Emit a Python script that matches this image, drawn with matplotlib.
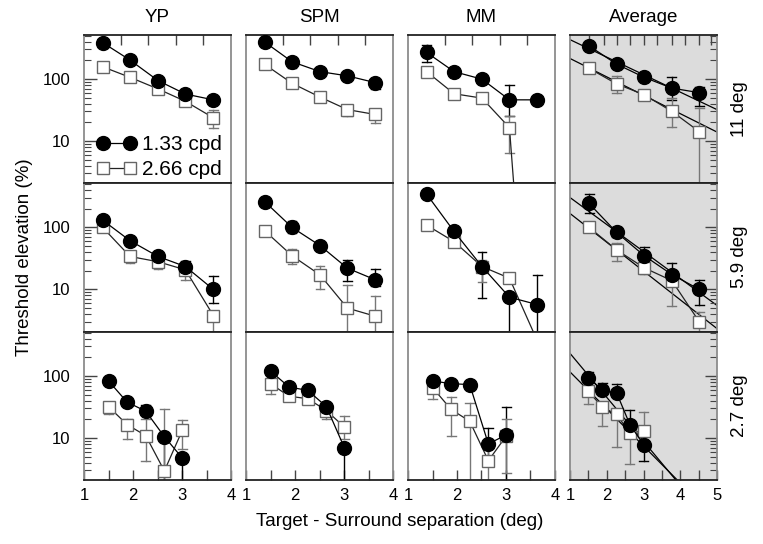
import numpy as np
import matplotlib
matplotlib.use("Agg")
import matplotlib.pyplot as plt
from matplotlib.lines import Line2D
from matplotlib.ticker import FixedLocator, NullFormatter, LogLocator

plt.rcParams['font.family'] = ['Liberation Sans', 'DejaVu Sans']

# ---------------- data ----------------
subjects = ["YP", "SPM", "MM", "Average"]
eccentricities = ["11 deg", "5.9 deg", "2.7 deg"]
legend_labels = ["1.33 cpd", "2.66 cpd"]

x_far = [1.38, 1.94, 2.51, 3.07, 3.64]       # 11 & 5.9 deg, individual observers
x_near = [1.50, 1.88, 2.26, 2.64, 3.01]      # 2.7 deg
x_avg_far = [1.52, 2.27, 3.02, 3.77, 4.52]   # average, 11 & 5.9 deg
x_avg_near = [1.50, 1.88, 2.27, 2.63, 3.01]  # average, 2.7 deg

nan = np.nan
# --- 11 deg ---
YP_11_c = [385, 201, 94, 57, 46]
YP_11_s = [157, 106, 69, 43.5, 23.6]
YP_11_c_lo = [330, nan, nan, nan, nan]
YP_11_c_hi = [440, nan, nan, nan, nan]
YP_11_s_lo = [nan, nan, nan, 40, 16.4]
YP_11_s_hi = [nan, nan, nan, nan, 32]

SPM_11_c = [394, 189, 131, 112, 87]
SPM_11_s = [172, 85, 51, 32, 26.7]
SPM_11_c_lo = [nan, 151, nan, nan, 69]
SPM_11_c_hi = [nan, nan, nan, nan, nan]
SPM_11_s_lo = [nan, nan, nan, 25, 19.6]
SPM_11_s_hi = [nan, nan, nan, nan, 33]

MM_11_c = [267, 131, 99, 46, 46]
MM_11_s = [131, 57.7, 49, 16.4, 2e-5]
MM_11_c_lo = [185, nan, nan, 25.7, nan]
MM_11_c_hi = [348, nan, nan, 80, nan]
MM_11_s_lo = [nan, nan, nan, 6.4, nan]
MM_11_s_hi = [nan, nan, nan, 25.7, nan]

AVG_11_c = [340, 173, 106, 71, 60]
AVG_11_s = [148, 83, 55.6, 30, 14.1]
AVG_11_c_lo = [nan, nan, nan, 46, 37]
AVG_11_c_hi = [nan, nan, nan, 109, 74]
AVG_11_s_lo = [nan, 60, nan, 17, 0.5]
AVG_11_s_hi = [nan, 112, nan, 50, 34]
AVG_11_fit_c = (2.915, -0.282)   # log10 intercept, slope
AVG_11_fit_s = (2.626, -0.2965)

# --- 5.9 deg ---
YP_59_c = [131, 61, 34, 23.4, 10]
YP_59_s = [100, 34, 28, 20.7, 3.8]
YP_59_c_lo = [nan, nan, nan, nan, 6]
YP_59_c_hi = [nan, nan, nan, 29, 16.2]
YP_59_s_lo = [nan, 26.4, 21.5, 14, 0.5]
YP_59_s_hi = [nan, nan, nan, 26, nan]

SPM_59_c = [261, 100, 51, 22, 14.3]
SPM_59_s = [88.5, 35, 17.2, 5, 3.7]
SPM_59_c_lo = [nan, 80, nan, 13.6, 11.2]
SPM_59_c_hi = [nan, 125, nan, 30, 21]
SPM_59_s_lo = [nan, 26, 10.2, 0.5, 0.5]
SPM_59_s_hi = [nan, 45, 23.5, 11.6, 7.7]

MM_59_c = [344, 86, 23.4, 7.5, 5.7]
MM_59_s = [109, 59, 23.4, 15.2, 1.48]
MM_59_c_lo = [nan, nan, 7.4, 0.5, 0.5]
MM_59_c_hi = [nan, nan, 39.7, nan, 17.4]
MM_59_s_lo = [nan, nan, 13.1, nan, nan]
MM_59_s_hi = [nan, nan, 30, 18.3, nan]

AVG_59_c = [243, 83, 35, 17.4, 10]
AVG_59_s = [100, 43.4, 22.3, 13.9, 3.0]
AVG_59_c_lo = [172, 69, 25, 11.5, 5.7]
AVG_59_c_hi = [343, 100, 48, 26.4, 14.3]
AVG_59_s_lo = [nan, 28.5, 17.8, 5.5, 2.1]
AVG_59_s_hi = [nan, 57, 28, nan, 4.3]
AVG_59_fit_c = (2.917, -0.435)
AVG_59_fit_s = (2.689, -0.464)

# --- 2.7 deg ---
YP_27_c = [83, 37.8, 27, 10.5, 4.7]
YP_27_s = [32, 16.4, 10.9, 2.94, 13.5]
YP_27_c_lo = [nan, nan, nan, 0.5, 0.5]
YP_27_c_hi = [nan, nan, 33.5, nan, nan]
YP_27_s_lo = [24.5, 9.7, 4.2, 0.5, 6.6]
YP_27_s_hi = [37.8, 20.4, 20.4, 29.6, 19.6]

SPM_27_c = [120, 66, 58.6, 32, 6.9]
SPM_27_s = [75, 47, 43, 27.7, 14.9]
SPM_27_c_lo = [nan, nan, nan, nan, 0.5]
SPM_27_c_hi = [nan, nan, nan, nan, nan]
SPM_27_s_lo = [52, nan, nan, 20.3, 9.7]
SPM_27_s_hi = [nan, nan, nan, nan, 23]

MM_27_c = [83, 75, 72.5, 8, 11.3]
MM_27_s = [65, 28.8, 18.6, 4.3, 10.9]
MM_27_c_lo = [nan, nan, nan, 4, 0.5]
MM_27_c_hi = [nan, nan, nan, 14.5, 32]
MM_27_s_lo = [43, 10.9, 0.5, 0.5, 2.7]
MM_27_s_hi = [nan, 45.6, 36, 7, 20.3]

AVG_27_c = [94, 58.6, 53, 16.4, 7.7]
AVG_27_s = [56.4, 31.4, 23.9, 11.9, 13.1]
AVG_27_c_lo = [nan, nan, nan, nan, 4.3]
AVG_27_c_hi = [116, 77, 75, 28.5, nan]
AVG_27_s_lo = [34.7, 15.8, 7.1, 3.8, 6.6]
AVG_27_s_hi = [nan, nan, nan, nan, 26]
AVG_27_fit_c = (3.073, -0.709)
AVG_27_fit_s = (2.662, -0.597)

# table assembled from the named lists: rows = eccentricity, cols = subject
panels = [
    [(x_far, YP_11_c, YP_11_s, YP_11_c_lo, YP_11_c_hi, YP_11_s_lo, YP_11_s_hi, None),
     (x_far, SPM_11_c, SPM_11_s, SPM_11_c_lo, SPM_11_c_hi, SPM_11_s_lo, SPM_11_s_hi, None),
     (x_far, MM_11_c, MM_11_s, MM_11_c_lo, MM_11_c_hi, MM_11_s_lo, MM_11_s_hi, None),
     (x_avg_far, AVG_11_c, AVG_11_s, AVG_11_c_lo, AVG_11_c_hi, AVG_11_s_lo, AVG_11_s_hi,
      (AVG_11_fit_c, AVG_11_fit_s))],
    [(x_far, YP_59_c, YP_59_s, YP_59_c_lo, YP_59_c_hi, YP_59_s_lo, YP_59_s_hi, None),
     (x_far, SPM_59_c, SPM_59_s, SPM_59_c_lo, SPM_59_c_hi, SPM_59_s_lo, SPM_59_s_hi, None),
     (x_far, MM_59_c, MM_59_s, MM_59_c_lo, MM_59_c_hi, MM_59_s_lo, MM_59_s_hi, None),
     (x_avg_far, AVG_59_c, AVG_59_s, AVG_59_c_lo, AVG_59_c_hi, AVG_59_s_lo, AVG_59_s_hi,
      (AVG_59_fit_c, AVG_59_fit_s))],
    [(x_near, YP_27_c, YP_27_s, YP_27_c_lo, YP_27_c_hi, YP_27_s_lo, YP_27_s_hi, None),
     (x_near, SPM_27_c, SPM_27_s, SPM_27_c_lo, SPM_27_c_hi, SPM_27_s_lo, SPM_27_s_hi, None),
     (x_near, MM_27_c, MM_27_s, MM_27_c_lo, MM_27_c_hi, MM_27_s_lo, MM_27_s_hi, None),
     (x_avg_near, AVG_27_c, AVG_27_s, AVG_27_c_lo, AVG_27_c_hi, AVG_27_s_lo, AVG_27_s_hi,
      (AVG_27_fit_c, AVG_27_fit_s))],
]

top_ticks_obs = [1.75, 2.30, 2.87, 3.43]
top_ticks_avg = [1.53, 1.93, 2.27, 2.63, 3.02, 3.36, 3.77, 4.13, 4.52, 4.85]

# ---------------- figure ----------------
W, H = 763, 544
fig = plt.figure(figsize=(W / 100, H / 100), dpi=100)

col_left = [84, 246, 408, 570]
col_w = 147
row_top = [34.5, 183.0, 331.5]
row_h = 148.5
YLIM = (2.1, 520)

gray_edge = '#777777'

for r in range(3):
    for c in range(4):
        left = col_left[c] / W
        bottom = 1 - (row_top[r] + row_h) / H
        ax = fig.add_axes([left, bottom, col_w / W, row_h / H])
        x, yc, ys, clo, chi, slo, shi, fit = panels[r][c]
        xmax = 5 if c == 3 else 4
        capw = 0.09 * (xmax - 1) / 3
        if c == 3:
            ax.set_facecolor('#dcdcdc')
        ax.set_yscale('log')
        ax.set_xlim(1, xmax)
        ax.set_ylim(*YLIM)

        for xi, yi, l, h in zip(x, yc, clo, chi):
            for v in (l, h):
                if not np.isnan(v):
                    ax.plot([xi, xi], [yi, v], color='black', lw=1.0, zorder=2)
                    if v > YLIM[0]:
                        ax.plot([xi - capw, xi + capw], [v, v], color='black', lw=1.0, zorder=2)
        for xi, yi, l, h in zip(x, ys, slo, shi):
            for v in (l, h):
                if not np.isnan(v):
                    ax.plot([xi, xi], [yi, v], color=gray_edge, lw=1.0, zorder=2)
                    if v > YLIM[0]:
                        ax.plot([xi - capw, xi + capw], [v, v], color=gray_edge, lw=1.0, zorder=2)

        if fit is not None:
            xx = np.linspace(1, xmax, 50)
            for (a, b) in fit:
                ax.plot(xx, 10 ** (a + b * xx), color='black', lw=0.9, zorder=1.5)

        ax.plot(x, ys, '-', color='#222222', lw=0.9, marker='s', ms=8.0,
                mfc='white', mec='#666666', mew=1.0, zorder=3)
        ax.plot(x, yc, '-', color='black', lw=0.9, marker='o', ms=10.0,
                mfc='black', mec='black', zorder=4)

        for side in ('left', 'right'):
            ax.spines[side].set_color('#8c8c8c')
            ax.spines[side].set_linewidth(1.3)
        for side in ('top', 'bottom'):
            ax.spines[side].set_color('#222222')
            ax.spines[side].set_linewidth(1.3)

        ax.yaxis.set_major_locator(FixedLocator([10, 100]))
        ax.yaxis.set_minor_locator(LogLocator(base=10, subs=np.arange(2, 10)))
        ax.yaxis.set_minor_formatter(NullFormatter())
        if c == 0:
            ax.set_yticklabels(['10', '100'])
            ax.tick_params(axis='y', which='both', direction='in', left=True, right=False,
                           labelleft=True, labelsize=12, pad=10, color='#444444')
        elif c == 3:
            ax.tick_params(axis='y', which='both', direction='in', left=False, right=True,
                           labelleft=False, color='#444444')
        else:
            ax.tick_params(axis='y', which='both', left=False, right=False, labelleft=False)
        ax.tick_params(axis='y', which='major', length=9, width=1.0)
        ax.tick_params(axis='y', which='minor', length=5, width=0.8)

        if r == 2:
            ax.xaxis.set_major_locator(FixedLocator(list(range(1, xmax + 1))))
            ax.xaxis.set_minor_locator(FixedLocator([v + 0.5 for v in range(1, xmax)]))
            ax.tick_params(axis='x', which='both', direction='in', bottom=True, top=False,
                           labelbottom=True, labelsize=12, pad=6, length=7, width=1.0,
                           color='#444444')
        elif r == 0:
            ax.xaxis.set_major_locator(FixedLocator(top_ticks_avg if c == 3 else top_ticks_obs))
            ax.xaxis.set_minor_locator(FixedLocator([]))
            ax.tick_params(axis='x', which='both', direction='in', bottom=False, top=True,
                           labelbottom=False, length=7, width=1.0, color='#444444')
        else:
            ax.tick_params(axis='x', which='both', bottom=False, top=False, labelbottom=False)

        if r == 0:
            ax.set_title(subjects[c], fontsize=13.5, pad=9)
        if c == 3:
            fig.text(740 / W, 1 - (row_top[r] + row_h / 2) / H, eccentricities[r],
                     rotation=90, ha='center', va='center', fontsize=13.5)
        if r == 0 and c == 0:
            handles = [
                Line2D([0], [0], color='black', lw=0.9, marker='o', ms=10, mfc='black', mec='black'),
                Line2D([0], [0], color='#222222', lw=0.9, marker='s', ms=8, mfc='white',
                       mec='#666666'),
            ]
            ax.legend(handles, legend_labels, loc='lower left', bbox_to_anchor=(0.0, -0.06),
                      frameon=False, numpoints=2, fontsize=15, handlelength=1.9,
                      handletextpad=0.3, labelspacing=0.3, borderaxespad=0.2)

fig.text(25 / W, 1 - 257 / H, 'Threshold elevation (%)', rotation=90,
         ha='center', va='center', fontsize=13.5)
fig.text(400 / W, 1 - 521 / H, 'Target - Surround separation (deg)',
         ha='center', va='center', fontsize=13.5)

fig.savefig('out.png', dpi=100)
